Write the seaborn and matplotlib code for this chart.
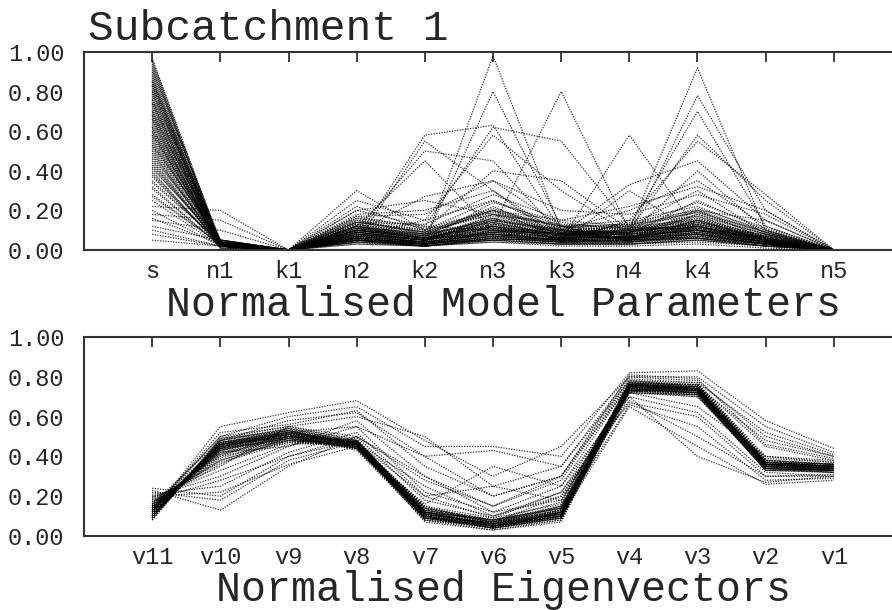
import pandas as pd
import matplotlib
import matplotlib.pyplot as plt
import seaborn as sns

matplotlib.use("Agg")

# 参数名称（上图）与特征向量名称（下图）
param_names = ["s", "n1", "k1", "n2", "k2", "n3", "k3", "n4", "k4", "k5", "n5"]
eig_names = ["v11", "v10", "v9", "v8", "v7", "v6", "v5", "v4", "v3", "v2", "v1"]

# 每一行是一条平行坐标线
param_runs = [
    [0.97, 0.03, 0, 0.08, 0.04, 0.98, 0.10, 0.06, 0.15, 0.05, 0],
    [0.93, 0.02, 0, 0.12, 0.05, 0.80, 0.12, 0.05, 0.10, 0.04, 0],
    [0.90, 0.04, 0, 0.05, 0.03, 0.12, 0.80, 0.10, 0.08, 0.03, 0],
    [0.88, 0.02, 0, 0.10, 0.06, 0.08, 0.05, 0.58, 0.10, 0.05, 0],
    [0.86, 0.03, 0, 0.06, 0.02, 0.10, 0.08, 0.10, 0.92, 0.10, 0],
    [0.84, 0.01, 0, 0.15, 0.08, 0.20, 0.06, 0.08, 0.78, 0.20, 0],
    [0.82, 0.02, 0, 0.08, 0.05, 0.15, 0.10, 0.12, 0.70, 0.12, 0],
    [0.80, 0.03, 0, 0.04, 0.55, 0.30, 0.05, 0.06, 0.10, 0.04, 0],
    [0.78, 0.05, 0, 0.10, 0.50, 0.45, 0.08, 0.05, 0.12, 0.05, 0],
    [0.76, 0.02, 0, 0.12, 0.45, 0.10, 0.04, 0.30, 0.08, 0.03, 0],
    [0.74, 0.02, 0, 0.06, 0.58, 0.63, 0.10, 0.05, 0.15, 0.06, 0],
    [0.72, 0.04, 0, 0.20, 0.12, 0.62, 0.55, 0.12, 0.10, 0.05, 0],
    [0.70, 0.03, 0, 0.14, 0.10, 0.40, 0.35, 0.10, 0.58, 0.25, 0],
    [0.68, 0.02, 0, 0.09, 0.27, 0.35, 0.12, 0.15, 0.55, 0.28, 0],
    [0.66, 0.01, 0, 0.18, 0.20, 0.30, 0.08, 0.33, 0.45, 0.15, 0],
    [0.64, 0.03, 0, 0.07, 0.15, 0.58, 0.30, 0.08, 0.40, 0.10, 0],
    [0.62, 0.02, 0, 0.22, 0.10, 0.25, 0.10, 0.20, 0.35, 0.12, 0],
    [0.60, 0.02, 0, 0.10, 0.08, 0.20, 0.15, 0.12, 0.30, 0.08, 0],
    [0.58, 0.03, 0, 0.05, 0.04, 0.18, 0.12, 0.08, 0.25, 0.10, 0],
    [0.56, 0.02, 0, 0.12, 0.06, 0.12, 0.06, 0.10, 0.20, 0.06, 0],
    [0.54, 0.04, 0, 0.08, 0.05, 0.15, 0.10, 0.06, 0.18, 0.08, 0],
    [0.52, 0.02, 0, 0.16, 0.12, 0.10, 0.08, 0.12, 0.15, 0.05, 0],
    [0.50, 0.01, 0, 0.06, 0.03, 0.08, 0.05, 0.05, 0.12, 0.04, 0],
    [0.48, 0.03, 0, 0.10, 0.07, 0.22, 0.07, 0.10, 0.10, 0.07, 0],
    [0.46, 0.02, 0, 0.04, 0.02, 0.06, 0.12, 0.04, 0.08, 0.03, 0],
    [0.44, 0.02, 0, 0.13, 0.09, 0.12, 0.04, 0.15, 0.22, 0.09, 0],
    [0.42, 0.03, 0, 0.07, 0.04, 0.05, 0.06, 0.07, 0.06, 0.02, 0],
    [0.40, 0.01, 0, 0.11, 0.06, 0.16, 0.09, 0.05, 0.13, 0.05, 0],
    [0.38, 0.02, 0, 0.03, 0.02, 0.04, 0.03, 0.03, 0.05, 0.02, 0],
    [0.35, 0.04, 0, 0.09, 0.05, 0.10, 0.10, 0.09, 0.17, 0.06, 0],
    [0.32, 0.02, 0, 0.05, 0.03, 0.07, 0.05, 0.06, 0.09, 0.04, 0],
    [0.28, 0.03, 0, 0.12, 0.08, 0.14, 0.07, 0.11, 0.11, 0.08, 0],
    [0.25, 0.02, 0, 0.06, 0.04, 0.09, 0.04, 0.04, 0.07, 0.03, 0],
    [0.22, 0.20, 0, 0.08, 0.05, 0.11, 0.08, 0.08, 0.14, 0.05, 0],
    [0.18, 0.15, 0, 0.04, 0.03, 0.05, 0.06, 0.05, 0.06, 0.02, 0],
    [0.15, 0.10, 0, 0.10, 0.06, 0.13, 0.05, 0.07, 0.10, 0.06, 0],
    [0.12, 0.05, 0, 0.05, 0.02, 0.06, 0.03, 0.03, 0.04, 0.02, 0],
    [0.10, 0.02, 0, 0.07, 0.04, 0.08, 0.07, 0.06, 0.08, 0.04, 0],
    [0.05, 0.02, 0, 0.03, 0.02, 0.04, 0.02, 0.02, 0.03, 0.01, 0],
    [0.92, 0.03, 0, 0.07, 0.03, 0.09, 0.06, 0.07, 0.12, 0.05, 0],
    [0.89, 0.02, 0, 0.11, 0.06, 0.14, 0.09, 0.09, 0.16, 0.07, 0],
    [0.85, 0.03, 0, 0.05, 0.02, 0.06, 0.04, 0.05, 0.08, 0.03, 0],
    [0.81, 0.02, 0, 0.09, 0.05, 0.11, 0.07, 0.06, 0.11, 0.05, 0],
    [0.77, 0.04, 0, 0.13, 0.07, 0.17, 0.10, 0.11, 0.14, 0.06, 0],
    [0.73, 0.02, 0, 0.06, 0.03, 0.07, 0.05, 0.04, 0.09, 0.04, 0],
    [0.69, 0.03, 0, 0.10, 0.05, 0.13, 0.08, 0.08, 0.12, 0.05, 0],
    [0.65, 0.02, 0, 0.04, 0.02, 0.05, 0.03, 0.03, 0.06, 0.03, 0],
    [0.61, 0.03, 0, 0.08, 0.04, 0.10, 0.06, 0.07, 0.10, 0.04, 0],
    [0.57, 0.02, 0, 0.12, 0.06, 0.15, 0.09, 0.10, 0.13, 0.06, 0],
    [0.53, 0.03, 0, 0.05, 0.03, 0.06, 0.04, 0.05, 0.07, 0.03, 0],
    [0.95, 0.02, 0, 0.30, 0.10, 0.20, 0.10, 0.08, 0.10, 0.04, 0],
    [0.83, 0.03, 0, 0.25, 0.15, 0.25, 0.12, 0.10, 0.12, 0.05, 0],
    [0.75, 0.02, 0, 0.20, 0.25, 0.18, 0.08, 0.06, 0.20, 0.15, 0],
    [0.67, 0.02, 0, 0.17, 0.18, 0.35, 0.20, 0.18, 0.28, 0.18, 0],
    [0.59, 0.03, 0, 0.14, 0.13, 0.28, 0.15, 0.22, 0.32, 0.20, 0],
    [0.96, 0.04, 0, 0.14, 0.09, 0.21, 0.11, 0.13, 0.19, 0.09, 0],
    [0.94, 0.03, 0, 0.09, 0.05, 0.12, 0.08, 0.06, 0.14, 0.06, 0],
    [0.91, 0.05, 0, 0.16, 0.10, 0.18, 0.13, 0.11, 0.21, 0.10, 0],
    [0.87, 0.02, 0, 0.06, 0.04, 0.08, 0.05, 0.04, 0.07, 0.03, 0],
    [0.85, 0.04, 0, 0.12, 0.07, 0.16, 0.10, 0.09, 0.18, 0.08, 0],
    [0.83, 0.03, 0, 0.08, 0.03, 0.10, 0.06, 0.07, 0.10, 0.04, 0],
    [0.80, 0.05, 0, 0.15, 0.09, 0.19, 0.12, 0.12, 0.24, 0.11, 0],
    [0.79, 0.02, 0, 0.05, 0.02, 0.06, 0.04, 0.03, 0.05, 0.02, 0],
    [0.76, 0.03, 0, 0.11, 0.06, 0.13, 0.08, 0.08, 0.15, 0.07, 0],
    [0.74, 0.04, 0, 0.09, 0.05, 0.24, 0.14, 0.10, 0.12, 0.05, 0],
    [0.71, 0.02, 0, 0.13, 0.08, 0.11, 0.06, 0.14, 0.20, 0.09, 0],
    [0.70, 0.03, 0, 0.07, 0.04, 0.09, 0.09, 0.06, 0.08, 0.04, 0],
    [0.68, 0.05, 0, 0.17, 0.11, 0.20, 0.12, 0.13, 0.17, 0.08, 0],
    [0.66, 0.02, 0, 0.06, 0.03, 0.07, 0.04, 0.05, 0.09, 0.03, 0],
    [0.63, 0.04, 0, 0.10, 0.06, 0.14, 0.07, 0.09, 0.13, 0.06, 0],
    [0.62, 0.03, 0, 0.08, 0.05, 0.09, 0.11, 0.07, 0.11, 0.05, 0],
    [0.60, 0.02, 0, 0.12, 0.07, 0.16, 0.05, 0.11, 0.16, 0.07, 0],
    [0.58, 0.04, 0, 0.05, 0.02, 0.05, 0.03, 0.04, 0.06, 0.02, 0],
    [0.55, 0.03, 0, 0.09, 0.06, 0.12, 0.08, 0.08, 0.12, 0.06, 0],
    [0.53, 0.05, 0, 0.14, 0.09, 0.18, 0.10, 0.12, 0.19, 0.09, 0],
    [0.51, 0.02, 0, 0.07, 0.04, 0.08, 0.06, 0.06, 0.08, 0.04, 0],
    [0.49, 0.03, 0, 0.11, 0.07, 0.13, 0.09, 0.09, 0.14, 0.07, 0],
    [0.47, 0.04, 0, 0.06, 0.03, 0.07, 0.05, 0.05, 0.07, 0.03, 0],
    [0.45, 0.02, 0, 0.10, 0.06, 0.11, 0.07, 0.08, 0.11, 0.05, 0],
    [0.43, 0.03, 0, 0.08, 0.05, 0.10, 0.06, 0.07, 0.10, 0.04, 0],
    [0.41, 0.05, 0, 0.12, 0.08, 0.15, 0.09, 0.10, 0.15, 0.07, 0],
    [0.39, 0.02, 0, 0.05, 0.03, 0.06, 0.04, 0.04, 0.06, 0.03, 0],
    [0.37, 0.03, 0, 0.09, 0.05, 0.11, 0.07, 0.08, 0.12, 0.05, 0],
    [0.34, 0.04, 0, 0.07, 0.04, 0.08, 0.05, 0.06, 0.09, 0.04, 0],
    [0.31, 0.02, 0, 0.10, 0.06, 0.12, 0.08, 0.09, 0.13, 0.06, 0],
    [0.27, 0.03, 0, 0.06, 0.03, 0.07, 0.05, 0.05, 0.08, 0.03, 0],
    [0.20, 0.02, 0, 0.08, 0.05, 0.09, 0.06, 0.07, 0.10, 0.05, 0],
    [0.16, 0.03, 0, 0.04, 0.02, 0.05, 0.03, 0.03, 0.05, 0.02, 0],
    [0.08, 0.02, 0, 0.06, 0.03, 0.07, 0.04, 0.05, 0.06, 0.03, 0],
]

eig_runs = [
    [0.08, 0.48, 0.54, 0.47, 0.08, 0.03, 0.08, 0.77, 0.76, 0.38, 0.36],
    [0.09, 0.47, 0.53, 0.46, 0.09, 0.04, 0.09, 0.76, 0.75, 0.37, 0.35],
    [0.10, 0.46, 0.52, 0.45, 0.10, 0.05, 0.10, 0.75, 0.74, 0.36, 0.34],
    [0.11, 0.45, 0.51, 0.46, 0.11, 0.06, 0.11, 0.74, 0.73, 0.35, 0.33],
    [0.12, 0.44, 0.50, 0.45, 0.12, 0.05, 0.12, 0.73, 0.72, 0.34, 0.32],
    [0.13, 0.43, 0.49, 0.44, 0.10, 0.06, 0.13, 0.72, 0.71, 0.33, 0.33],
    [0.14, 0.42, 0.48, 0.45, 0.09, 0.07, 0.14, 0.74, 0.72, 0.36, 0.34],
    [0.15, 0.40, 0.47, 0.46, 0.12, 0.08, 0.12, 0.75, 0.73, 0.37, 0.35],
    [0.16, 0.38, 0.48, 0.47, 0.13, 0.07, 0.15, 0.76, 0.74, 0.35, 0.34],
    [0.17, 0.36, 0.50, 0.48, 0.11, 0.06, 0.13, 0.73, 0.70, 0.34, 0.33],
    [0.12, 0.47, 0.52, 0.47, 0.10, 0.04, 0.10, 0.76, 0.74, 0.36, 0.35],
    [0.10, 0.45, 0.50, 0.44, 0.08, 0.05, 0.09, 0.74, 0.75, 0.38, 0.36],
    [0.13, 0.46, 0.51, 0.46, 0.12, 0.06, 0.11, 0.75, 0.72, 0.35, 0.33],
    [0.11, 0.44, 0.49, 0.45, 0.09, 0.05, 0.10, 0.73, 0.73, 0.37, 0.35],
    [0.14, 0.43, 0.52, 0.47, 0.13, 0.07, 0.12, 0.77, 0.74, 0.36, 0.34],
    [0.09, 0.48, 0.53, 0.45, 0.10, 0.04, 0.09, 0.76, 0.73, 0.34, 0.32],
    [0.15, 0.41, 0.50, 0.46, 0.11, 0.06, 0.13, 0.74, 0.71, 0.33, 0.34],
    [0.12, 0.45, 0.51, 0.44, 0.10, 0.05, 0.11, 0.75, 0.74, 0.37, 0.36],
    [0.16, 0.39, 0.49, 0.46, 0.14, 0.08, 0.14, 0.73, 0.72, 0.35, 0.33],
    [0.10, 0.46, 0.52, 0.47, 0.09, 0.05, 0.10, 0.76, 0.75, 0.36, 0.34],
    [0.09, 0.49, 0.55, 0.48, 0.09, 0.04, 0.10, 0.78, 0.77, 0.39, 0.37],
    [0.11, 0.46, 0.54, 0.49, 0.11, 0.05, 0.11, 0.77, 0.76, 0.38, 0.36],
    [0.13, 0.44, 0.53, 0.48, 0.12, 0.07, 0.13, 0.76, 0.75, 0.37, 0.35],
    [0.10, 0.47, 0.51, 0.43, 0.08, 0.04, 0.08, 0.72, 0.71, 0.33, 0.32],
    [0.12, 0.46, 0.50, 0.44, 0.09, 0.05, 0.09, 0.73, 0.72, 0.34, 0.33],
    [0.14, 0.44, 0.49, 0.45, 0.10, 0.06, 0.10, 0.74, 0.73, 0.35, 0.34],
    [0.16, 0.41, 0.48, 0.44, 0.11, 0.07, 0.11, 0.75, 0.74, 0.36, 0.35],
    [0.18, 0.37, 0.47, 0.45, 0.13, 0.08, 0.14, 0.76, 0.75, 0.37, 0.36],
    [0.08, 0.49, 0.53, 0.46, 0.07, 0.03, 0.07, 0.75, 0.74, 0.36, 0.35],
    [0.11, 0.45, 0.52, 0.48, 0.12, 0.06, 0.12, 0.77, 0.73, 0.35, 0.34],
    [0.12, 0.44, 0.51, 0.47, 0.13, 0.07, 0.13, 0.74, 0.72, 0.34, 0.33],
    [0.13, 0.43, 0.50, 0.46, 0.14, 0.08, 0.14, 0.73, 0.74, 0.36, 0.35],
    [0.10, 0.48, 0.54, 0.47, 0.10, 0.05, 0.11, 0.76, 0.76, 0.38, 0.36],
    [0.15, 0.42, 0.49, 0.45, 0.12, 0.06, 0.15, 0.75, 0.73, 0.35, 0.34],
    [0.14, 0.45, 0.51, 0.46, 0.11, 0.05, 0.12, 0.74, 0.74, 0.37, 0.35],
    [0.17, 0.38, 0.48, 0.46, 0.15, 0.09, 0.16, 0.77, 0.75, 0.36, 0.34],
    [0.19, 0.33, 0.46, 0.47, 0.14, 0.08, 0.17, 0.76, 0.74, 0.37, 0.35],
    [0.09, 0.47, 0.52, 0.44, 0.09, 0.04, 0.09, 0.73, 0.72, 0.33, 0.32],
    [0.11, 0.46, 0.53, 0.46, 0.10, 0.05, 0.10, 0.75, 0.73, 0.35, 0.33],
    [0.13, 0.45, 0.52, 0.47, 0.11, 0.06, 0.11, 0.76, 0.74, 0.36, 0.34],
    [0.24, 0.20, 0.40, 0.48, 0.12, 0.08, 0.15, 0.74, 0.72, 0.36, 0.34],
    [0.22, 0.18, 0.38, 0.47, 0.25, 0.10, 0.20, 0.72, 0.70, 0.35, 0.33],
    [0.23, 0.13, 0.35, 0.50, 0.30, 0.12, 0.18, 0.75, 0.74, 0.37, 0.35],
    [0.21, 0.25, 0.42, 0.52, 0.20, 0.09, 0.22, 0.73, 0.71, 0.34, 0.33],
    [0.20, 0.30, 0.45, 0.55, 0.40, 0.20, 0.30, 0.76, 0.73, 0.36, 0.35],
    [0.19, 0.35, 0.55, 0.60, 0.50, 0.25, 0.35, 0.78, 0.76, 0.40, 0.38],
    [0.12, 0.55, 0.62, 0.68, 0.48, 0.30, 0.45, 0.80, 0.80, 0.55, 0.42],
    [0.14, 0.50, 0.60, 0.65, 0.45, 0.45, 0.40, 0.82, 0.83, 0.58, 0.44],
    [0.16, 0.48, 0.58, 0.62, 0.40, 0.43, 0.35, 0.80, 0.78, 0.50, 0.40],
    [0.13, 0.52, 0.56, 0.63, 0.35, 0.20, 0.30, 0.79, 0.77, 0.52, 0.41],
    [0.15, 0.42, 0.45, 0.58, 0.30, 0.15, 0.28, 0.78, 0.75, 0.48, 0.40],
    [0.17, 0.40, 0.52, 0.55, 0.22, 0.12, 0.25, 0.77, 0.76, 0.45, 0.38],
    [0.18, 0.28, 0.40, 0.50, 0.18, 0.10, 0.22, 0.67, 0.60, 0.30, 0.30],
    [0.11, 0.45, 0.50, 0.47, 0.15, 0.06, 0.12, 0.66, 0.55, 0.28, 0.29],
    [0.10, 0.47, 0.52, 0.46, 0.12, 0.05, 0.10, 0.65, 0.45, 0.26, 0.28],
    [0.12, 0.44, 0.48, 0.45, 0.10, 0.04, 0.12, 0.70, 0.40, 0.27, 0.30],
    [0.14, 0.43, 0.50, 0.48, 0.14, 0.07, 0.20, 0.68, 0.50, 0.30, 0.31],
    [0.20, 0.22, 0.36, 0.45, 0.16, 0.35, 0.25, 0.70, 0.62, 0.32, 0.30],
    [0.15, 0.46, 0.51, 0.47, 0.20, 0.25, 0.18, 0.72, 0.65, 0.40, 0.37],
    [0.13, 0.50, 0.55, 0.50, 0.28, 0.15, 0.30, 0.81, 0.79, 0.46, 0.39],
]


def to_long(runs, names):
    rows = []
    for r, vals in enumerate(runs):
        for i, v in enumerate(vals):
            rows.append({"run": r, "pos": i + 1, "name": names[i], "value": v})
    return pd.DataFrame(rows)


df_par = to_long(param_runs, param_names)
df_eig = to_long(eig_runs, eig_names)

sns.set_style("white")
mono = ["Liberation Mono", "DejaVu Sans Mono"]
plt.rcParams["font.family"] = mono

fig = plt.figure(figsize=(8.92, 6.10), dpi=100)
W, H = 892, 610
ax1 = fig.add_axes([84 / W, 1 - 250 / H, 818 / W, 198 / H])
ax2 = fig.add_axes([84 / W, 1 - 536 / H, 818 / W, 199 / H])

# (轴, 数据, 刻度名, 标题, 标题基线的轴坐标)
panels = [
    (ax1, df_par, param_names, "Normalised Model Parameters", -0.333),
    (ax2, df_eig, eig_names, "Normalised Eigenvectors", -0.328),
]
for ax, df, names, xlabel, ly in panels:
    sns.lineplot(data=df, x="pos", y="value", units="run", estimator=None,
                 color="black", lw=0.9, linestyle=(0, (1, 1.1)), alpha=0.8,
                 ax=ax, legend=False)
    ax.set_xlim(0, 12)
    ax.set_ylim(0, 1)
    ax.set_xticks(range(1, len(names) + 1))
    ax.set_xticklabels(names)
    ax.set_yticks([0, 0.2, 0.4, 0.6, 0.8, 1.0])
    ax.set_yticklabels([f"{v:.2f}" for v in [0, 0.2, 0.4, 0.6, 0.8, 1.0]])
    ax.tick_params(axis="both", direction="in", length=7, width=1.3,
                   color="#333333", labelsize=17, top=True, right=True, pad=7)
    ax.tick_params(axis="y", pad=14)
    for sp in ax.spines.values():
        sp.set_linewidth(1.5)
        sp.set_color("#333333")
    ax.set_xlabel(xlabel, fontsize=30, va="baseline")
    ax.xaxis.set_label_coords(0.513, ly)
    ax.set_ylabel("")

fig.text(88 / W, 1 - 40 / H, "Subcatchment 1", fontsize=31, ha="left", va="baseline")

plt.savefig("out.png", dpi=100)
